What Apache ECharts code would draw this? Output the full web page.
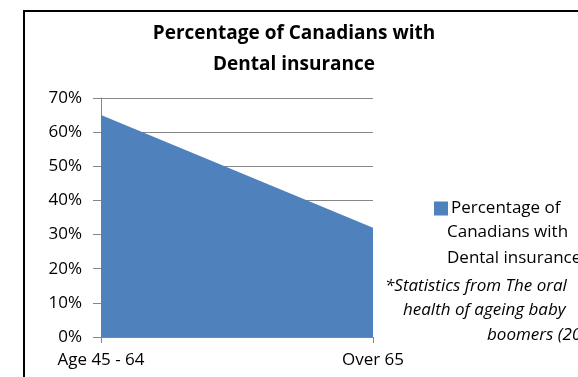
<!DOCTYPE html>
<html>
<head>
<meta charset="utf-8">
<script src="https://cdn.jsdelivr.net/npm/echarts@6/dist/echarts.min.js"></script>
<style>
  html, body { margin: 0; padding: 0; background: #fff; }
  #chart { width: 578px; height: 377px; }
</style>
</head>
<body>
<div id="chart"></div>
<script>
// 数据
var categories = ['Age 45 - 64', 'Over 65'];
var insured = [65, 32];
var yTicks = [0, 10, 20, 30, 40, 50, 60, 70];
var seriesName = 'Percentage of Canadians with Dental insurance';
var legendLines = ['Percentage of', 'Canadians with', 'Dental insurance'];
var noteLines = ['*Statistics from The oral', 'health of ageing baby', 'boomers (2010)'];

var font = '"Open Sans", sans-serif';
var myChart = echarts.init(document.getElementById('chart'));

var option = {
    animation: false,
    title: {
        text: 'Percentage of Canadians with\nDental insurance',
        left: 289,
        top: 13,
        textAlign: 'center',
        textStyle: {
            fontFamily: font,
            fontWeight: 'bold',
            fontSize: 19,
            lineHeight: 31,
            color: '#000'
        }
    },
    legend: {
        data: [seriesName],
        left: 429,
        top: 195,
        icon: 'rect',
        itemWidth: 14,
        itemHeight: 14,
        itemGap: 4,
        formatter: function () { return legendLines[0]; },
        textStyle: { fontFamily: font, fontSize: 17, color: '#000', padding: [0, 0, 0, -2] }
    },
    grid: { left: 101, right: 205, top: 98, bottom: 40 },
    xAxis: {
        type: 'category',
        data: categories,
        boundaryGap: false,
        axisLine: { lineStyle: { color: '#868686' } },
        axisTick: { show: true, length: 6, lineStyle: { color: '#868686' } },
        axisLabel: { fontFamily: font, fontSize: 17, color: '#000', margin: 15 }
    },
    yAxis: {
        type: 'value',
        min: 0,
        max: 70,
        interval: 10,
        axisLine: { show: true, lineStyle: { color: '#868686' } },
        axisTick: { show: true, length: 8, lineStyle: { color: '#868686' } },
        axisLabel: {
            fontFamily: font, fontSize: 17, color: '#000', margin: 19,
            formatter: function (v) { return yTicks.indexOf(v) >= 0 ? v + '%' : ''; }
        },
        splitLine: { lineStyle: { color: '#868686' } }
    },
    series: [{
        name: seriesName,
        type: 'line',
        data: insured,
        symbol: 'none',
        lineStyle: { width: 0 },
        itemStyle: { color: '#4F81BD' },
        areaStyle: { color: '#4F81BD', opacity: 1 }
    }],
    graphic: [
        {
            type: 'rect',
            shape: { x: 24, y: 11, width: 620, height: 420 },
            style: { fill: 'none', stroke: '#000', lineWidth: 2 },
            silent: true
        },
        {
            type: 'text', left: 447, top: 219,
            style: { text: legendLines[1] + '\n' + legendLines[2], font: '17px ' + font, lineHeight: 26, fill: '#000' }
        },
        {
            type: 'text', left: 385, top: 278,
            style: { text: noteLines[0], font: 'italic 17px ' + font, fill: '#000' }
        },
        {
            type: 'text', left: 403, top: 302,
            style: { text: noteLines[1], font: 'italic 17px ' + font, fill: '#000' }
        },
        {
            type: 'text', left: 487, top: 327,
            style: { text: noteLines[2], font: 'italic 17px ' + font, fill: '#000' }
        }
    ]
};

myChart.setOption(option);
</script>
</body>
</html>
